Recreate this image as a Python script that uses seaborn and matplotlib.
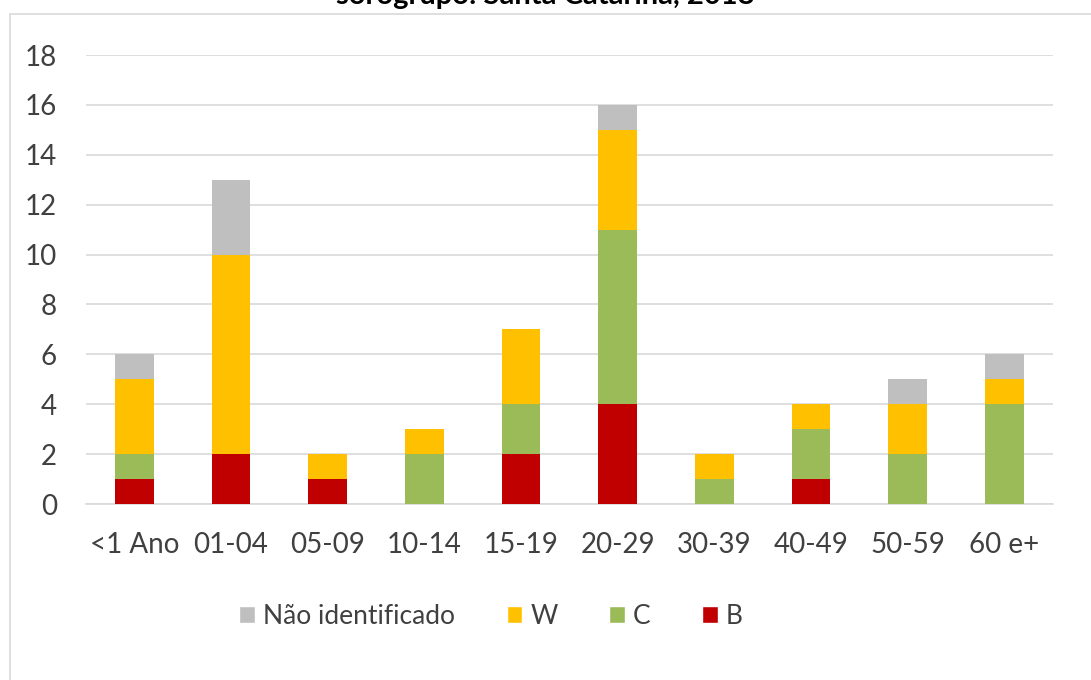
import pandas as pd
import numpy as np
import matplotlib
matplotlib.use("Agg")
import matplotlib.pyplot as plt
import seaborn as sns
from matplotlib.patches import Rectangle, Patch

# faixas etarias e casos por sorogrupo
faixas = ["<1 Ano", "01-04", "05-09", "10-14", "15-19", "20-29", "30-39", "40-49", "50-59", "60 e+"]
casos_b = [1, 2, 1, 0, 2, 4, 0, 1, 0, 0]
casos_c = [1, 0, 0, 2, 2, 7, 1, 2, 2, 4]
casos_w = [3, 8, 1, 1, 3, 4, 1, 1, 2, 1]
casos_ni = [1, 3, 0, 0, 0, 1, 0, 0, 1, 1]
titulo = "sorogrupo: Santa Catarina, 2018"

series = [("B", casos_b, "#C00000"),
          ("C", casos_c, "#9BBB59"),
          ("W", casos_w, "#FFC000"),
          ("Não identificado", casos_ni, "#BFBFBF")]

sns.set_theme(style="white")
plt.rcParams["font.family"] = ["Lato", "DejaVu Sans"]
cor_texto = "#404040"

fig = plt.figure(figsize=(10.91, 6.8), dpi=100)
ax = fig.add_axes([0.0788, 0.2588, 0.8862, 0.6602])

# empilhamento
base = np.zeros(len(faixas))
for nome, valores, cor in series:
    df = pd.DataFrame({"faixa": faixas, "casos": valores})
    sns.barplot(data=df, x="faixa", y="casos", color=cor, width=0.4,
                bottom=base, ax=ax, saturation=1, zorder=3, linewidth=0,
                edgecolor="none")
    base = base + np.array(valores)

ax.set_ylim(0, 18)
ax.set_yticks(range(0, 19, 2))
ax.set_xlim(-0.5, len(faixas) - 0.5)
ax.yaxis.grid(True, color="#D9D9D9", linewidth=1.2, zorder=0)
ax.set_axisbelow(True)
for s in ["top", "right", "left"]:
    ax.spines[s].set_visible(False)
ax.spines["bottom"].set_color("#D9D9D9")
ax.spines["bottom"].set_linewidth(1.2)
ax.set_xlabel("")
ax.set_ylabel("")
ax.tick_params(axis="both", length=0, labelsize=20, colors=cor_texto)
ax.tick_params(axis="x", pad=20)
ax.tick_params(axis="y", pad=21)

# legenda
handles = [Patch(facecolor=cor, label=nome) for nome, _, cor in reversed(series)]
fig.legend(handles=handles, loc="center", bbox_to_anchor=(0.45, 0.094), ncol=4,
           frameon=False, fontsize=19, handlelength=0.6, handleheight=0.6,
           columnspacing=1.95, handletextpad=0.3, labelcolor=cor_texto)

# moldura do grafico e titulo cortado
fig.patches.append(Rectangle((10 / 1091, -0.1), 1.2, 1 - 14 / 680 + 0.1,
                             transform=fig.transFigure, fill=False,
                             edgecolor="#D9D9D9", linewidth=1.2))
fig.text(0.5, 1.0 - 4 / 680, titulo, ha="center", va="baseline", fontsize=21,
         fontweight="bold", color="black")

fig.savefig("out.png", dpi=100)
